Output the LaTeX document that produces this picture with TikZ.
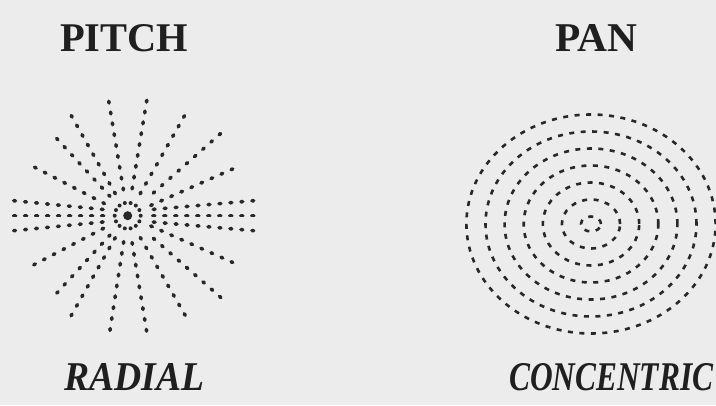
\documentclass[tikz,border=0pt]{standalone}
\usepackage{fontspec}
\setmainfont{Liberation Serif}
\usepackage{graphicx}
\definecolor{paper}{RGB}{236,236,236}
\definecolor{ink}{RGB}{40,40,40}
\newcommand{\capword}[3]{\resizebox{#1pt}{#2pt}{#3}}
\begin{document}
\begin{tikzpicture}[
        x=1pt, y=1pt,
        dotray/.style={ink, line width=3.6pt, line cap=round, dash pattern=on 1.8pt off 9.2pt},
        ring/.style={ink, line width=2.6pt, dash pattern=on 5pt off 6.5pt},
        title/.style={anchor=base west, inner sep=0pt, text=black!88, font=\bfseries},
        caption/.style={anchor=base west, inner sep=0pt, text=black!88, font=\bfseries\itshape}
    ]

    % --- Canvas ---
    \fill[paper] (0,0) rectangle (716,405);
    \useasboundingbox (0,0) rectangle (716,405);

    % --- Headings ---
    \node[title] (pitch) at (60,353) {\capword{128}{27}{PITCH}};
    \node[title] (pan) at (555,353) {\capword{82}{27}{PAN}};

    % --- Radial pattern ---
    \coordinate (radc) at (127.7,189.3);
    \foreach \a/\r in {24/115, 41.5/124, 60.4/115, 80.6/117, 99.4/116, 119.4/115, 132.6/105, 152.5/105,
                       -24/115, -41.3/124, -60/115, -80.7/117, -98.8/116, -119.5/115, -132.5/105, -152.4/106}
        \draw[dotray, shift={(radc)}] (\a:\r) -- (\a:25);
    \foreach \s in {-1,0,1} {
        \draw[dotray, shift={(radc)}] (-114,15*\s) -- (-24,6.2*\s);
        \draw[dotray, shift={(radc)}] (126,15*\s) -- (24,6.2*\s);
    }
    \foreach \a in {0,25.714,...,359}
        \fill[ink, shift={(radc)}] (\a:13) circle (2);
    \fill[ink] (radc) circle (4.5);

    % --- Concentric pattern ---
    \coordinate (conc) at (591,181);
    \foreach \i in {0,...,6}
        \draw[ring] (conc) ellipse [x radius=10+19.1*\i, y radius=7.5+17*\i];

    % --- Captions ---
    \node[caption] (radial) at (64,14) {\capword{140}{27}{RADIAL}};
    \node[caption] (concentric) at (509,14) {\capword{204}{27}{CONCENTRIC}};

    \end{tikzpicture}
\end{document}
